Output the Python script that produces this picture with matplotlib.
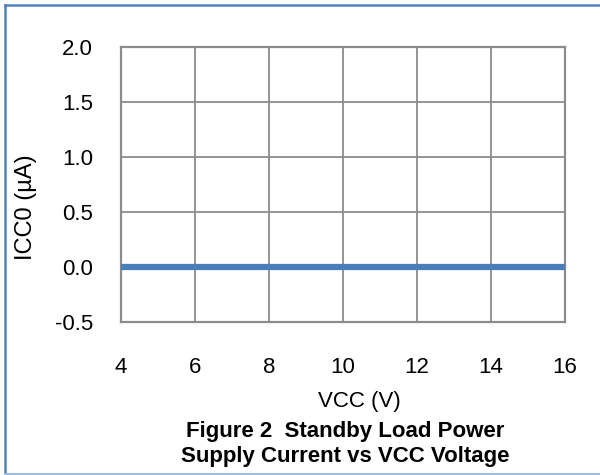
import matplotlib

matplotlib.use("Agg")
import matplotlib.pyplot as plt
from matplotlib.lines import Line2D

# Data: standby current stays at zero over VCC range
vcc = [4, 6, 8, 10, 12, 14, 16]
icc0 = [0, 0, 0, 0, 0, 0, 0]
x_ticks = [4, 6, 8, 10, 12, 14, 16]
y_ticks = [-0.5, 0.0, 0.5, 1.0, 1.5, 2.0]

C_LINE = "#4a7ebb"
C_GRID = "#8c8c8c"
C_FRAME = "#4f81bd"

plt.rcParams.update({"font.family": ["Liberation Sans", "DejaVu Sans"],
                     "font.size": 16})

W, H = 600, 475
L, R, T, B = 121, 565, 47, 322   # plot box in pixels
fig = plt.figure(figsize=(W / 100, H / 100), dpi=100)
ax = fig.add_axes([L / W, 1 - B / H, (R - L) / W, (B - T) / H])

ax.plot(vcc, icc0, color=C_LINE, lw=4.5, solid_capstyle="butt", clip_on=False,
        zorder=3)
ax.set_xlim(4, 16)
ax.set_ylim(-0.5, 2.0)
ax.set_xticks(x_ticks)
ax.set_yticks(y_ticks)
ax.set_yticklabels([f"{v:.1f}" for v in y_ticks])
ax.grid(True, color=C_GRID, lw=1.3)
ax.tick_params(length=0, labelsize=16)
ax.tick_params(axis="y", pad=20)
ax.tick_params(axis="x", pad=25)
for s in ax.spines.values():
    s.set_color(C_GRID)
    s.set_linewidth(1.6)

ax.set_xlabel("VCC (V)", fontsize=16, va="center")
ax.xaxis.set_label_coords((359 - L) / (R - L), (B - 402) / (B - T))
ax.set_ylabel("ICC0 (µA)", fontsize=17, va="center")
ax.yaxis.set_label_coords((26 - L) / (R - L), (B - 207) / (B - T))

cx = 345 / W
fig.text(cx, 1 - 437.5 / H, "Figure 2  Standby Load Power",
         ha="center", va="baseline", fontsize=16, fontweight="bold")
fig.text(cx, 1 - 462 / H, "Supply Current vs VCC Voltage",
         ha="center", va="baseline", fontsize=16, fontweight="bold")

# outer frame around the figure
fig.add_artist(Line2D([5 / W, 5 / W], [1 - 5 / H, 1 / H], color=C_FRAME, lw=1.8))
fig.add_artist(Line2D([5 / W, 1], [1 - 5 / H, 1 - 5 / H], color=C_FRAME, lw=1.8))
fig.add_artist(Line2D([5 / W, 1], [1.5 / H, 1.5 / H], color="#9dbbe0", lw=1.5))

fig.savefig("out.png", dpi=100)
